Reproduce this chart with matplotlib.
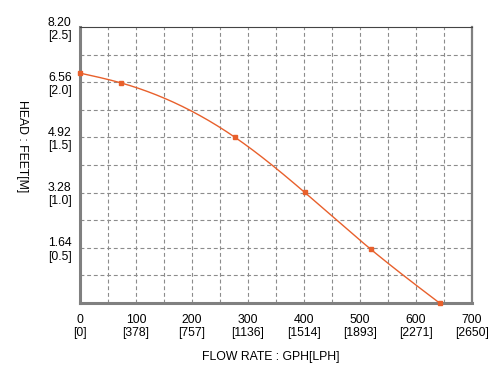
import numpy as np
import matplotlib
matplotlib.use("Agg")
import matplotlib.pyplot as plt

# pump curve readings (GPH vs feet of head)
flow_gph = [0, 73, 277, 401, 519, 642]
head_ft = [6.83, 6.54, 4.92, 3.29, 1.60, 0.0]

x_ticks = [0, 100, 200, 300, 400, 500, 600, 700]
x_lph = ["0", "378", "757", "1136", "1514", "1893", "2271", "2650"]
y_ticks = [1.64, 3.28, 4.92, 6.56, 8.20]
y_m = ["0.5", "1.0", "1.5", "2.0", "2.5"]

LINE = "#e8602c"


def spline(xs, ys, n=40):
    # natural cubic spline through the measured points, only for drawing
    x = np.asarray(xs, float); y = np.asarray(ys, float)
    N = len(x); h = np.diff(x)
    A = np.zeros((N, N)); b = np.zeros(N)
    A[0, 0] = A[-1, -1] = 1
    for i in range(1, N - 1):
        A[i, i - 1] = h[i - 1]; A[i, i] = 2 * (h[i - 1] + h[i]); A[i, i + 1] = h[i]
        b[i] = 6 * ((y[i + 1] - y[i]) / h[i] - (y[i] - y[i - 1]) / h[i - 1])
    M = np.linalg.solve(A, b)
    ox, oy = [], []
    for i in range(N - 1):
        t = np.linspace(x[i], x[i + 1], n)
        a = x[i + 1] - t; c = t - x[i]
        s = (M[i] * a**3 + M[i + 1] * c**3) / (6 * h[i]) \
            + (y[i] / h[i] - M[i] * h[i] / 6) * a \
            + (y[i + 1] / h[i] - M[i + 1] * h[i] / 6) * c
        ox.extend(t); oy.extend(s)
    return ox, oy


plt.rcParams["font.family"] = ["Liberation Sans", "DejaVu Sans"]

fig = plt.figure(figsize=(5.04, 3.82), dpi=100)
ax = fig.add_axes([80 / 504, 1 - 303 / 382, 392 / 504, 276 / 382])

ax.set_xlim(0, 700)
ax.set_ylim(0, 8.20)

for gx in np.arange(50, 700, 50):
    ax.axvline(gx, color="#8c8c8c", lw=0.8, ls=(0, (3.5, 2.5)), zorder=1)
for gy in np.arange(1, 10) * 0.82:
    ax.axhline(gy, color="#8c8c8c", lw=0.8, ls=(0, (3.5, 2.5)), zorder=1)

sx, sy = spline(flow_gph, head_ft)
ax.plot(sx, sy, color=LINE, lw=1.0, zorder=3, clip_on=False)
ax.plot(flow_gph, head_ft, "s", color=LINE, ms=3, zorder=4, clip_on=False)

ax.set_xticks(x_ticks)
ax.set_xticklabels([f"{v}\n[{m}]" for v, m in zip(x_ticks, x_lph)],
                   fontsize=8.8, linespacing=1.15, multialignment="center")
ax.set_yticks(y_ticks)
ax.set_yticklabels([f"{v:.2f}\n[{m}]" for v, m in zip(y_ticks, y_m)],
                   fontsize=8.8, linespacing=1.15, multialignment="center")
ax.tick_params(axis="y", length=0, pad=6)
ax.tick_params(axis="x", length=0, pad=8)

ax.spines["left"].set_color("#808080")
ax.spines["left"].set_linewidth(2.2)
ax.spines["bottom"].set_color("#808080")
ax.spines["bottom"].set_linewidth(2.2)
ax.spines["right"].set_color("#808080")
ax.spines["right"].set_linewidth(1.6)
ax.spines["top"].set_color("#444444")
ax.spines["top"].set_linewidth(0.8)

fig.text(271 / 504, 1 - 357 / 382, "FLOW RATE : GPH[LPH]", fontsize=8.8,
         ha="center", va="center")
fig.text(22 / 504, 1 - 146 / 382, "HEAD : FEET[M]", fontsize=8.8,
         ha="center", va="center", rotation=-90)

fig.savefig("out.png", dpi=100)
